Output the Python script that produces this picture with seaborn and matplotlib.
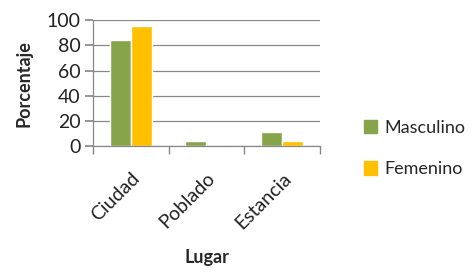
import pandas as pd
import matplotlib.pyplot as plt
import seaborn as sns

# Data
lugares = ['Ciudad', 'Poblado', 'Estancia']
masculino = [84.6, 3.8, 11.5]
femenino = [95.2, 0.0, 3.8]
series = ['Masculino', 'Femenino']
colores = ['#86A44A', '#FFC000']

sns.set_theme(style="white")
plt.rcParams['font.family'] = ['Lato', 'DejaVu Sans']

df = pd.DataFrame({
    'Lugar': lugares * 2,
    'Porcentaje': masculino + femenino,
    'Sexo': [series[0]] * 3 + [series[1]] * 3,
})

fig = plt.figure(figsize=(4.72, 2.72), dpi=100)
ax = fig.add_axes([0.197, 0.463, 0.481, 0.463])

sns.barplot(data=df, x='Lugar', y='Porcentaje', hue='Sexo', order=lugares,
            hue_order=series, palette=colores, width=0.56, gap=0,
            saturation=1, ax=ax, legend=False)

ax.set_ylim(0, 100)
ax.set_yticks([0, 20, 40, 60, 80, 100])
ax.set_xlim(-0.5, 2.5)
ax.yaxis.grid(True, color='#888888', linewidth=0.9)
ax.set_axisbelow(True)
for s in ['top', 'right']:
    ax.spines[s].set_visible(False)
for s in ['left', 'bottom']:
    ax.spines[s].set_color('#888888')
    ax.spines[s].set_linewidth(0.9)

ax.tick_params(axis='y', which='major', left=True, length=6, color='#888888',
               labelsize=14, labelcolor='#222222', pad=3)
ax.set_xticks([0, 1, 2])
ax.set_xticklabels(lugares, rotation=45, ha='right', rotation_mode='anchor',
                   fontsize=14, color='#222222')
ax.tick_params(axis='x', which='major', bottom=False, pad=11)
ax.set_xticks([-0.5, 0.5, 1.5, 2.5], minor=True)
ax.tick_params(axis='x', which='minor', bottom=True, length=6, color='#888888')

ax.set_xlabel('Lugar', fontsize=13, fontweight='bold', labelpad=12)
ax.set_ylabel('Porcentaje', fontsize=13, fontweight='bold', labelpad=10)

handles = [plt.Rectangle((0, 0), 1, 1, color=c) for c in colores]
ax.legend(handles, series, loc='center left', bbox_to_anchor=(1.12, -0.02),
          frameon=False, fontsize=13, handlelength=0.75, handleheight=0.75,
          handletextpad=0.4, labelspacing=1.4)

fig.savefig('out.png', dpi=100)
